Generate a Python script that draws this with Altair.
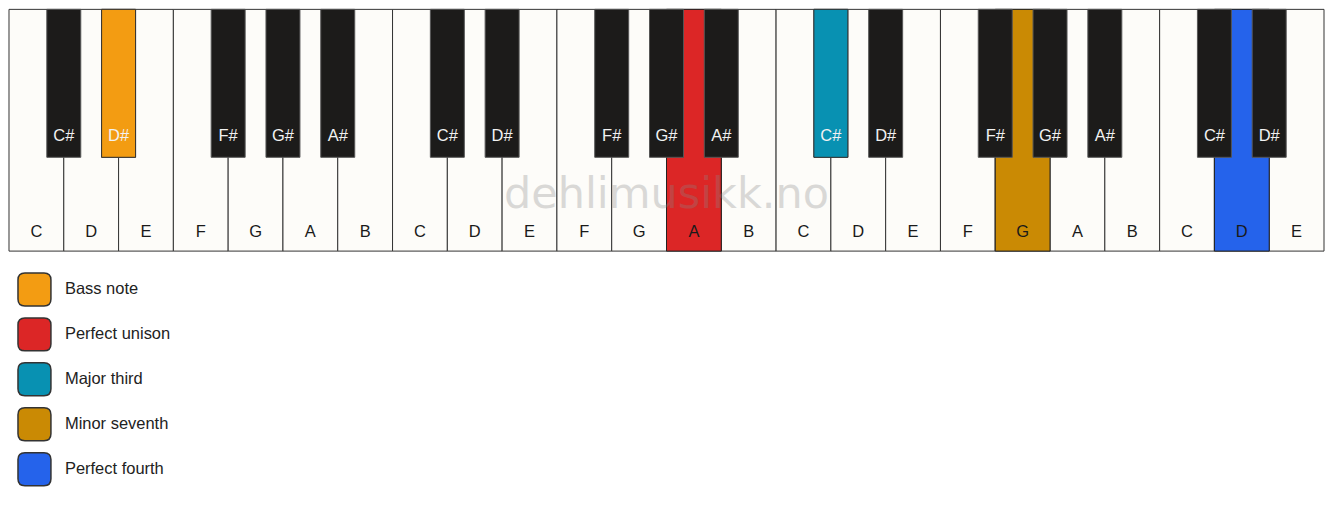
import altair as alt
import pandas as pd

# ---- data -------------------------------------------------------------
WHITE_NOTES = ["C", "D", "E", "F", "G", "A", "B",
               "C", "D", "E", "F", "G", "A", "B",
               "C", "D", "E", "F", "G", "A", "B",
               "C", "D", "E"]
BLACK_NOTES = ["C#", "D#", "F#", "G#", "A#",
               "C#", "D#", "F#", "G#", "A#",
               "C#", "D#", "F#", "G#", "A#",
               "C#", "D#"]
# white-key boundary (index of the white key on its right) of each black key
BLACK_AFTER = [1, 2, 4, 5, 6, 8, 9, 11, 12, 13, 15, 16, 18, 19, 20, 22, 23]

INTERVALS = ["Bass note", "Perfect unison", "Major third", "Minor seventh", "Perfect fourth"]
INTERVAL_COLORS = ["#f39c12", "#dc2626", "#0891b2", "#ca8a04", "#2563eb"]
HIGHLIGHT_KIND = ["black", "white", "black", "white", "white"]
HIGHLIGHT_INDEX = [1, 12, 10, 18, 22]

WATERMARK = "dehlimusikk.no"

# ---- geometry / style constants (reference pixel units) -------------------
W_LEN = 250
B_LEN = 153
B_HALF = 0.31
WHITE_LABEL_Y = 230
BLACK_LABEL_Y = 131
WATERMARK_Y = 192
FONT = "Liberation Sans"

white_role = [""] * len(WHITE_NOTES)
black_role = [""] * len(BLACK_NOTES)
for name, kind, idx in zip(INTERVALS, HIGHLIGHT_KIND, HIGHLIGHT_INDEX):
    if kind == "white":
        white_role[idx] = name
    else:
        black_role[idx] = name

white = pd.DataFrame({"i": list(range(len(WHITE_NOTES))), "note": WHITE_NOTES, "role": white_role})
black = pd.DataFrame({"b": BLACK_AFTER, "note": BLACK_NOTES, "role": black_role})
mark_df = pd.DataFrame({"t": [WATERMARK]})

xs = alt.Scale(domain=[0, len(WHITE_NOTES)], nice=False, zero=False)
ys = alt.Scale(domain=[0, 506], reverse=True, nice=False, zero=False)
cs = alt.Scale(domain=INTERVALS, range=INTERVAL_COLORS)

ROUNDED = ("M -0.58,-1 L 0.58,-1 Q 1,-1 1,-0.58 L 1,0.58 Q 1,1 0.58,1 "
           "L -0.58,1 Q -1,1 -1,0.58 L -1,-0.58 Q -1,-1 -0.58,-1 Z")

leg = alt.Legend(
    title=None, orient="none", legendX=8, legendY=263, direction="vertical",
    symbolType=ROUNDED, symbolSize=1089, symbolStrokeColor="#333333",
    symbolStrokeWidth=1.5, symbolOpacity=1,
    labelFont=FONT, labelFontSize=16.5, labelColor="#222222", labelOffset=13,
    rowPadding=6, padding=0, labelLimit=400,
)

base_w = alt.Chart(white).transform_calculate(
    x0="datum.i", x1="datum.i + 1", xc="datum.i + 0.5",
    y0="0", y1=str(W_LEN), ly=str(WHITE_LABEL_Y),
)
base_b = alt.Chart(black).transform_calculate(
    x0=f"datum.b - {B_HALF}", x1=f"datum.b + {B_HALF}", xc="datum.b",
    y0="0", y1=str(B_LEN), ly=str(BLACK_LABEL_Y),
)

enc = dict(
    x=alt.X("x0:Q", scale=xs, axis=None),
    x2="x1:Q",
    y=alt.Y("y0:Q", scale=ys, axis=None),
    y2="y1:Q",
)

white_keys = base_w.mark_rect(fill="#fdfcf9", stroke="#333333", strokeWidth=1).encode(**enc)
white_hi = base_w.transform_filter("datum.role != ''").mark_rect(
    stroke="#222222", strokeWidth=1
).encode(color=alt.Color("role:N", scale=cs, legend=leg), **enc)
black_keys = base_b.mark_rect(fill="#1c1b1a", stroke="#555555", strokeWidth=1).encode(**enc)
black_hi = base_b.transform_filter("datum.role != ''").mark_rect(
    stroke="#333333", strokeWidth=1
).encode(color=alt.Color("role:N", scale=cs, legend=leg), **enc)

lab_enc = dict(
    x=alt.X("xc:Q", scale=xs, axis=None),
    y=alt.Y("ly:Q", scale=ys, axis=None),
    text="note:N",
)
white_labels = base_w.mark_text(font=FONT, fontSize=16.5, color="#1a1a1a",
                                align="center", baseline="middle").encode(**lab_enc)
black_labels = base_b.mark_text(font=FONT, fontSize=16.5, color="#f2f2f2",
                                align="center", baseline="middle").encode(**lab_enc)

watermark = alt.Chart(mark_df).transform_calculate(
    xc=str(len(WHITE_NOTES) / 2), ly=str(WATERMARK_Y)
).mark_text(font="DejaVu Sans", fontSize=43, fill="#888888", opacity=0.3,
            align="center", baseline="middle").encode(
    x=alt.X("xc:Q", scale=xs, axis=None),
    y=alt.Y("ly:Q", scale=ys, axis=None),
    text="t:N",
)

chart = alt.layer(
    white_keys, white_hi, black_keys, black_hi, white_labels, black_labels, watermark
).properties(width=1317, height=490, padding=0).configure_view(strokeWidth=0)

chart.save("out.html", embed_options={"renderer": "svg", "actions": False})
